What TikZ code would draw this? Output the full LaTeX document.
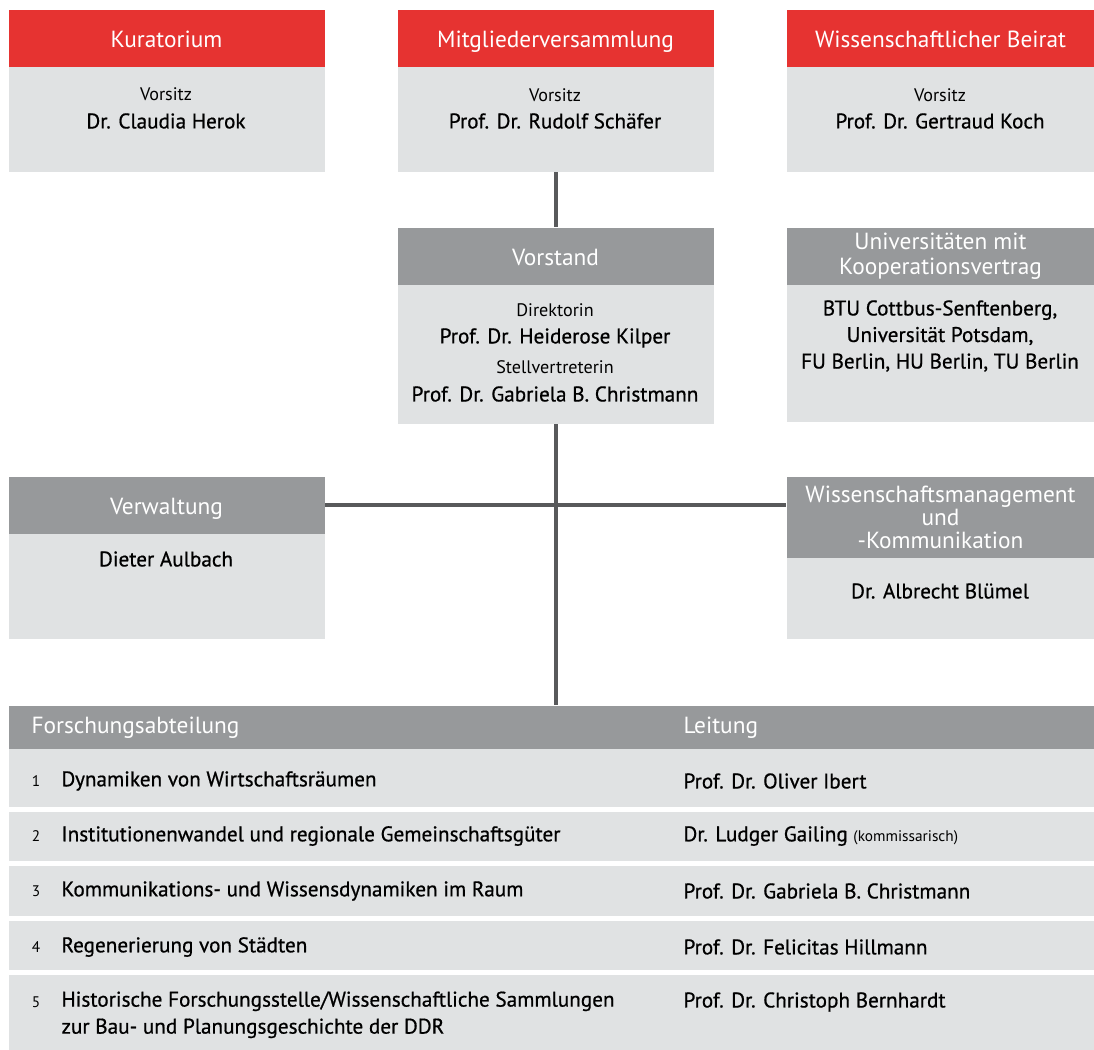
\documentclass[tikz,border=0pt]{standalone}
\usepackage{fontspec}
\setmainfont{PT Sans}
\newfontfamily\kraeftig{PT Sans}[FakeBold=0.7]
\usetikzlibrary{positioning}

\definecolor{izrot}{RGB}{230,51,49}
\definecolor{izgrau}{RGB}{151,153,155}
\definecolor{izhell}{RGB}{224,226,227}
\definecolor{izlinie}{RGB}{88,89,91}

\tikzset{every picture/.style={line width=0.75pt}}
\tikzset{
  kopfrot/.style={fill=izrot, anchor=north west, inner sep=0pt, text=white, align=center, font=\fontsize{17.5}{19}\selectfont},
  kopfgrau/.style={fill=izgrau, anchor=north west, inner sep=0pt, text=white, align=center, font=\fontsize{17.5}{19}\selectfont},
  einzeilig/.style={text height=13.5pt, text depth=0pt},
  feld/.style={fill=izhell, anchor=north west, inner sep=0pt},
  funktion/.style={inner sep=0.75pt, font=\fontsize{13.6}{16}\selectfont},
  person/.style={inner sep=0.75pt, align=center, font=\kraeftig\fontsize{15.9}{19.9}\selectfont},
  nummer/.style={inner sep=0.75pt, font=\fontsize{11.5}{13}\selectfont},
  zeile/.style={anchor=west, inner sep=0.75pt, align=left, font=\kraeftig\fontsize{15.9}{20.25}\selectfont},
  linie/.style={draw=izlinie, line width=3pt}
}

\begin{document}
\begin{tikzpicture}[x=0.75pt,y=0.75pt,yscale=-1,xscale=1]
\useasboundingbox (0,0) rectangle (1094,1049);

% obere Reihe
\node [kopfrot, einzeilig, minimum width=237pt, minimum height=42.75pt] (kur) at (8,10) {Kuratorium};
\node [feld, minimum width=237pt, minimum height=78pt] (kurb) at (8,67) {};
\node [kopfrot, einzeilig, minimum width=237pt, minimum height=42.75pt] (mv) at (397,10) {Mitgliederversammlung};
\node [feld, minimum width=237pt, minimum height=78pt] (mvb) at (397,67) {};
\node [kopfrot, einzeilig, minimum width=231pt, minimum height=42.75pt] (wb) at (786,10) {Wissenschaftlicher Beirat};
\node [feld, minimum width=231pt, minimum height=78pt] (wbb) at (786,67) {};

\node [funktion] (kurv) at (166,94) {Vorsitz};
\node [person] (kurn) at (166,121) {Dr. Claudia Herok};
\node [funktion] (mvv) at (555,95) {Vorsitz};
\node [person] (mvn) at (555,121) {Prof. Dr. Rudolf Schäfer};
\node [funktion] (wbv) at (940,95) {Vorsitz};
\node [person] (wbn) at (940,121) {Prof. Dr. Gertraud Koch};

% Vorstand und Universitaeten
\node [kopfgrau, einzeilig, minimum width=237pt, minimum height=42.75pt] (vs) at (397,227) {Vorstand};
\node [feld, minimum width=237pt, minimum height=104.25pt] (vsb) at (397,284) {};
\node [funktion] (vsd) at (555,310) {Direktorin};
\node [person] (vsdn) at (555,338) {Prof. Dr. Heiderose Kilper};
\node [funktion] (vss) at (555,367) {Stellvertreterin};
\node [person] (vssn) at (555,394) {Prof. Dr. Gabriela B. Christmann};

\node [kopfgrau, minimum width=231pt, minimum height=42.75pt, font=\fontsize{17.5}{18.75}\selectfont] (uni) at (786,227) {Universitäten mit\\Kooperationsvertrag};
\node [feld, minimum width=231pt, minimum height=102.75pt] (unib) at (786,284) {};
\node [person] (unin) at (940,336) {BTU Cottbus-Senftenberg,\\Universität Potsdam,\\FU Berlin, HU Berlin, TU Berlin};

% Verwaltung und Wissenschaftsmanagement
\node [kopfgrau, einzeilig, minimum width=237pt, minimum height=42.75pt] (vw) at (8,476) {Verwaltung};
\node [feld, minimum width=237pt, minimum height=78.75pt] (vwb) at (8,533) {};
\node [person] (vwn) at (166,559) {Dieter Aulbach};

\node [kopfgrau, minimum width=231pt, minimum height=60.75pt, font=\fontsize{17.5}{17.25}\selectfont] (wm) at (786,476) {Wissenschaftsmanagement\\und\\-Kommunikation};
\node [feld, minimum width=231pt, minimum height=60.75pt] (wmb) at (786,557) {};
\node [person] (wmn) at (940,591) {Dr. Albrecht Blümel};

% Forschungsabteilungen
\node [kopfgrau, minimum width=814.5pt, minimum height=32.25pt] (fa) at (8,705) {};
\node [feld, minimum width=814.5pt, minimum height=43.5pt] (fa1) at (8,748) {};
\node [feld, minimum width=814.5pt, minimum height=36.75pt] (fa2) at (8,811) {};
\node [feld, minimum width=814.5pt, minimum height=37.5pt] (fa3) at (8,865) {};
\node [feld, minimum width=814.5pt, minimum height=36.75pt] (fa4) at (8,920) {};
\node [feld, minimum width=814.5pt, minimum height=56.25pt] (fa5) at (8,974) {};

\node [zeile, text=white, font=\fontsize{17.5}{19}\selectfont] (fak) at (30,728) {Forschungsabteilung};
\node [zeile, text=white, font=\fontsize{17.5}{19}\selectfont] (lek) at (682,728) {Leitung};

\node [nummer] (n1) at (36,781) {1};
\node [zeile] (t1) at (60,781) {Dynamiken von Wirtschaftsräumen};
\node [zeile] (l1) at (682,781) {Prof. Dr. Oliver Ibert};
\node [nummer] (n2) at (36,836) {2};
\node [zeile] (t2) at (60,836) {Institutionenwandel und regionale Gemeinschaftsgüter};
\node [zeile] (l2) at (682,836) {Dr. Ludger Gailing {\normalfont\fontsize{11.5}{13}\selectfont(kommissarisch)}};
\node [nummer] (n3) at (36,891) {3};
\node [zeile] (t3) at (60,891) {Kommunikations- und Wissensdynamiken im Raum};
\node [zeile] (l3) at (682,891) {Prof. Dr. Gabriela B. Christmann};
\node [nummer] (n4) at (36,947) {4};
\node [zeile] (t4) at (60,947) {Regenerierung von Städten};
\node [zeile] (l4) at (682,947) {Prof. Dr. Felicitas Hillmann};
\node [nummer] (n5) at (36,1002) {5};
\node [zeile, anchor=north west] (t5) at (60,990) {Historische Forschungsstelle/Wissenschaftliche Sammlungen\\zur Bau- und Planungsgeschichte der DDR};
\node [zeile] (l5) at (682,1002) {Prof. Dr. Christoph Bernhardt};

% Verbindungen
\draw [linie] (mvb.south) -- (vs.north);
\draw [linie] (vsb.south) -- (vsb.south |- fa.north);
\draw [linie] (vw.east) -- (vw.east -| wm.west);

\end{tikzpicture}
\end{document}
